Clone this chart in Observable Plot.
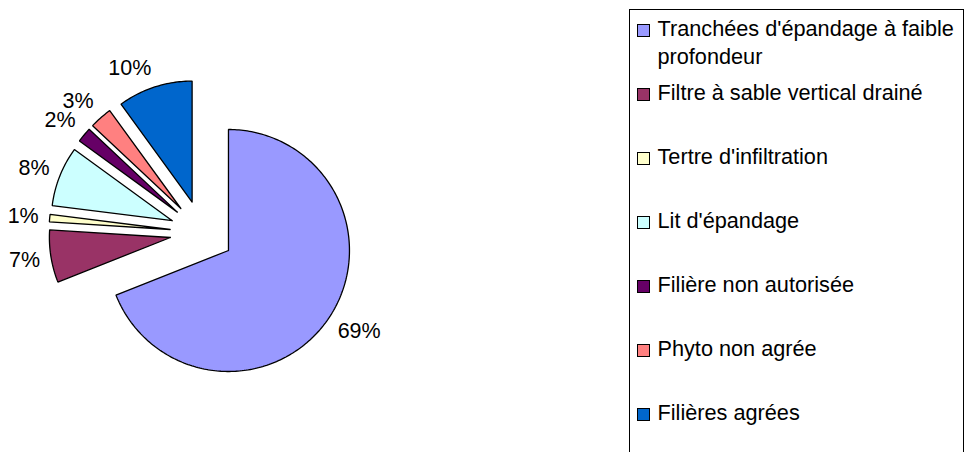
<!DOCTYPE html>
<html><head><meta charset="utf-8">
<script src="https://cdn.jsdelivr.net/npm/d3@7"></script>
<script src="https://cdn.jsdelivr.net/npm/@observablehq/plot@0.6"></script>
<style>
body{margin:0;background:#fff;font-family:"Liberation Sans",Arial,sans-serif;}
#wrap{position:relative;width:964px;height:452px;overflow:hidden;background:#fff;}
#wrap svg{position:absolute;left:0;top:0;}
#legend{position:absolute;left:629px;top:9px;width:335px;height:480px;border:1px solid #000;box-sizing:border-box;background:#fff;}
.item{position:absolute;left:0;width:330px;height:60px;}
.sw{position:absolute;left:7px;top:9px;width:12.7px;height:12.7px;border:1px solid #000;box-sizing:border-box;}
.lab{position:absolute;left:27.5px;top:0;width:304px;font-size:21.7px;line-height:27.6px;color:#000;white-space:normal;}
</style></head><body><div id="wrap"><div id="legend"></div></div>
<script>
const categories = [
  "Tranchées d'épandage à faible profondeur",
  "Filtre à sable vertical drainé",
  "Tertre d'infiltration",
  "Lit d'épandage",
  "Filière non autorisée",
  "Phyto non agrée",
  "Filières agrées"
];
const values = [69, 7, 1, 8, 2, 3, 10];
const colors = ["#9999FF", "#993366", "#FFFFCC", "#CCFFFF", "#660066", "#FF8080", "#0066CC"];
const labels = values.map(v => v + "%");

// geometry (radius = 1 unit)
const RPX = 121;            // pixel radius
const CX = 201.5, CY = 232; // pie centre in px
const explode = 32 / RPX;
const labelR = 1 + 11 / RPX;
const halfH = 8 / RPX;

const total = d3.sum(values);
let acc = 0;
const slices = values.map((v, i) => {
  const a0 = acc / total * 2 * Math.PI;
  acc += v;
  const a1 = acc / total * 2 * Math.PI;
  const mid = (a0 + a1) / 2;
  const dx = Math.sin(mid), dy = Math.cos(mid);
  return {key: categories[i], label: labels[i], a0, a1, mid, dx, dy,
          cx: explode * dx, cy: explode * dy};
});

const arcPts = [];
for (const s of slices) {
  arcPts.push({key: s.key, x: s.cx, y: s.cy});
  const n = Math.max(4, Math.ceil((s.a1 - s.a0) / (Math.PI / 180)));
  for (let k = 0; k <= n; k++) {
    const a = s.a0 + (s.a1 - s.a0) * k / n;
    arcPts.push({key: s.key, x: s.cx + Math.sin(a), y: s.cy + Math.cos(a)});
  }
  arcPts.push({key: s.key, x: s.cx, y: s.cy});
}

const labelPts = slices.map(s => ({
  label: s.label,
  side: s.dx < 0 ? "left" : "right",
  x: s.cx + labelR * s.dx,
  y: s.cy + labelR * s.dy + Math.max(-1, Math.min(1, s.dy * 1.5)) * halfH
}));

const font = "Liberation Sans, Arial, sans-serif";
const plot = Plot.plot({
  width: 964,
  height: 452,
  margin: 0,
  style: {background: "transparent", overflow: "visible"},
  x: {domain: [-1, 1], range: [CX - RPX, CX + RPX], axis: null},
  y: {domain: [-1, 1], range: [CY + RPX, CY - RPX], axis: null},
  color: {domain: categories, range: colors},
  marks: [
    Plot.line(arcPts, {x: "x", y: "y", z: "key", fill: "key", stroke: "#000",
      strokeWidth: 1.3, curve: "linear", strokeLinejoin: "miter"}),
    Plot.text(labelPts.filter(d => d.side === "left"), {x: "x", y: "y", text: "label",
      textAnchor: "end", lineAnchor: "middle", fontSize: 21.5, fontFamily: font, fill: "#000"}),
    Plot.text(labelPts.filter(d => d.side === "right"), {x: "x", y: "y", text: "label",
      textAnchor: "start", lineAnchor: "middle", fontSize: 21.5, fontFamily: font, fill: "#000"})
  ]
});
document.getElementById("wrap").prepend(plot);

// legend
const colorScale = Plot.scale({color: {domain: categories, range: colors}});
const legend = document.getElementById("legend");
categories.forEach((c, i) => {
  const item = document.createElement("div");
  item.className = "item";
  item.style.top = (5.3 + 64 * i) + "px";
  const sw = document.createElement("div");
  sw.className = "sw";
  sw.style.background = colorScale.apply(c);
  const lab = document.createElement("div");
  lab.className = "lab";
  lab.textContent = c;
  item.appendChild(sw);
  item.appendChild(lab);
  legend.appendChild(item);
});
</script>
</body></html>
